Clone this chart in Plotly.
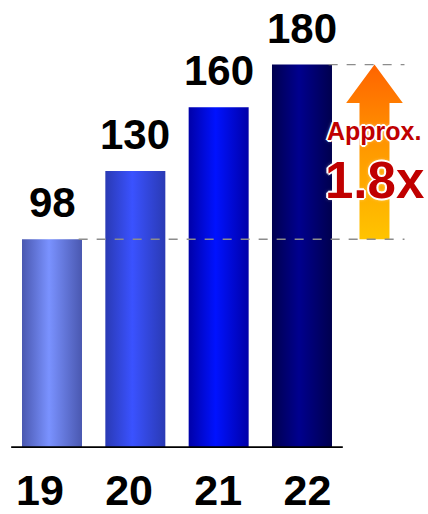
import plotly.graph_objects as go

# Data
years = ["19", "20", "21", "22"]
values = [98, 130, 160, 180]

# Horizontal gradient for each bar: (edge colour, centre colour)
bar_gradients = [
    ("#4a58b0", "#7a92ff"),
    ("#2a3ab4", "#3a52ff"),
    ("#0000a8", "#0012ff"),
    ("#00004e", "#00008e"),
]

BAR_WIDTH = 0.72
LABEL_SPREAD = 1.07  # year labels sit slightly wider apart than the bars
FONT = "Liberation Sans, Arial, sans-serif"

fig = go.Figure()

# Bars drawn as filled polygons so they can carry a horizontal gradient
for i, (v, (edge, centre)) in enumerate(zip(values, bar_gradients)):
    x0, x1 = i - BAR_WIDTH / 2, i + BAR_WIDTH / 2
    fig.add_trace(go.Scatter(
        x=[x0, x1, x1, x0, x0],
        y=[0, 0, v, v, 0],
        mode="lines",
        line=dict(width=0),
        fill="toself",
        fillgradient=dict(
            type="horizontal",
            colorscale=[[0, edge], [0.45, centre], [1, edge]],
        ),
        hoverinfo="skip",
        showlegend=False,
    ))
    fig.add_annotation(
        x=i, y=v, text=f"<b>{v}</b>", showarrow=False,
        yanchor="bottom", yshift=11,
        font=dict(family=FONT, size=42, color="#000000"),
    )

# Growth arrow between the first and last year
low, high = values[0], values[-1]
ax = len(values) - 1 + 0.87
shaft = 0.18
head = 0.34
head_base = high - 0.22 * (high - low)
fig.add_trace(go.Scatter(
    x=[ax - shaft, ax + shaft, ax + shaft, ax + head, ax, ax - head, ax - shaft, ax - shaft],
    y=[low, low, head_base, head_base, high, head_base, head_base, low],
    mode="lines",
    line=dict(width=0),
    fill="toself",
    fillgradient=dict(
        type="vertical",
        colorscale=[[0, "#ffc400"], [0.5, "#ff9a00"], [1, "#ff6400"]],
    ),
    hoverinfo="skip",
    showlegend=False,
))

# Dashed reference lines at the first and last values
for i_ref, v_ref in ((0, low), (len(values) - 1, high)):
    fig.add_shape(
        type="line", xref="x", yref="y",
        x0=i_ref + BAR_WIDTH / 2 - 0.04, x1=ax + head + 0.02, y0=v_ref, y1=v_ref,
        line=dict(color="#8c8c8c", width=1.4, dash="dash"),
        layer="above",
    )

# Baseline
fig.add_shape(
    type="line", xref="x", yref="y",
    x0=-0.49, x1=len(values) - 0.51, y0=0, y1=0,
    line=dict(color="#000000", width=3.5),
    layer="above",
)

outline = ("1px 1px 0 #fff, -1px -1px 0 #fff, 1px -1px 0 #fff, -1px 1px 0 #fff, "
           "2px 0 0 #fff, -2px 0 0 #fff, 0 2px 0 #fff, 0 -2px 0 #fff, 0 0 4px #fff")
ratio = high / low
fig.add_annotation(
    x=ax, y=low + 0.62 * (high - low), text="<b>Approx.</b>", showarrow=False,
    font=dict(family=FONT, size=25, color="#c00000", shadow=outline),
)
fig.add_annotation(
    x=ax, y=low + 0.335 * (high - low), text=f"<b>{ratio:.1f}x</b>", showarrow=False,
    font=dict(family=FONT, size=51, color="#c00000", shadow=outline),
)

mid = (len(years) - 1) / 2
tick_positions = [mid - 0.04 + (i - mid) * LABEL_SPREAD for i in range(len(years))]

PX_PER_UNIT = 2.13
fig.update_layout(
    width=428, height=514,
    margin=dict(l=0, r=0, t=0, b=66),
    paper_bgcolor="#ffffff", plot_bgcolor="#ffffff",
    xaxis=dict(
        range=[-0.624, -0.624 + 428 / 83.33],
        tickvals=tick_positions,
        ticktext=[f"<b>{y}</b>" for y in years],
        tickfont=dict(family=FONT, size=43, color="#000000"),
        ticklabelstandoff=13,
        showgrid=False, zeroline=False, showline=False,
        ticks="", fixedrange=True,
    ),
    yaxis=dict(
        range=[0, 448 / PX_PER_UNIT],
        visible=False, showgrid=False, zeroline=False, fixedrange=True,
    ),
)

fig.write_html("out.html")
